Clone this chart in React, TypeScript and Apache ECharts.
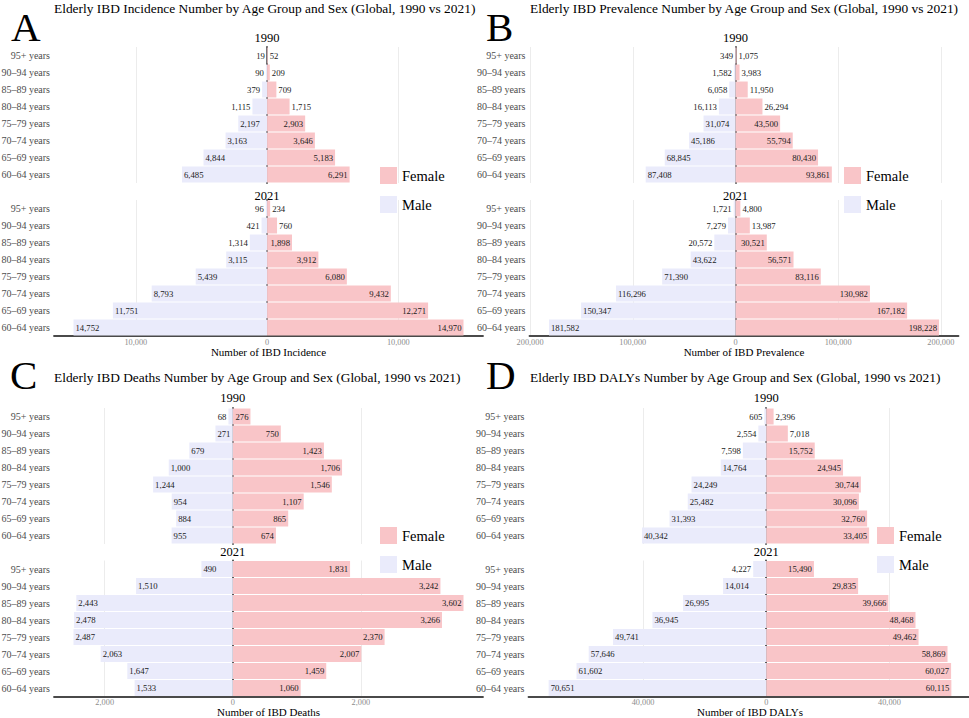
import React, { useEffect, useRef } from 'react';
import * as echarts from 'echarts';

// Age groups, bottom (first) to top (last)
const ageGroups = [
  '60–64 years',
  '65–69 years',
  '70–74 years',
  '75–79 years',
  '80–84 years',
  '85–89 years',
  '90–94 years',
  '95+ years',
];

// A: Incidence
const incidenceFemale1990 = [6291, 5183, 3646, 2903, 1715, 709, 209, 52];
const incidenceMale1990 = [6485, 4844, 3163, 2197, 1115, 379, 90, 19];
const incidenceFemale2021 = [14970, 12271, 9432, 6080, 3912, 1898, 760, 234];
const incidenceMale2021 = [14752, 11751, 8793, 5439, 3115, 1314, 421, 96];
const incidenceTicks = [-10000, 0, 10000];

// B: Prevalence
const prevalenceFemale1990 = [93861, 80430, 55794, 43500, 26294, 11950, 3983, 1075];
const prevalenceMale1990 = [87408, 68845, 45186, 31074, 16113, 6058, 1582, 349];
const prevalenceFemale2021 = [198228, 167182, 130982, 83116, 56571, 30521, 13987, 4800];
const prevalenceMale2021 = [181582, 150347, 116296, 71390, 43622, 20572, 7279, 1721];
const prevalenceTicks = [-200000, -100000, 0, 100000, 200000];

// C: Deaths
const deathsFemale1990 = [674, 865, 1107, 1546, 1706, 1423, 750, 276];
const deathsMale1990 = [955, 884, 954, 1244, 1000, 679, 271, 68];
const deathsFemale2021 = [1060, 1459, 2007, 2370, 3266, 3602, 3242, 1831];
const deathsMale2021 = [1533, 1647, 2063, 2487, 2478, 2443, 1510, 490];
const deathsTicks = [-2000, 0, 2000];

// D: DALYs
const dalysFemale1990 = [33405, 32760, 30096, 30744, 24945, 15752, 7018, 2396];
const dalysMale1990 = [40342, 31393, 25482, 24249, 14764, 7598, 2554, 605];
const dalysFemale2021 = [60115, 60027, 58869, 49462, 48468, 39666, 29835, 15490];
const dalysMale2021 = [70651, 61602, 57646, 49741, 36945, 26995, 14014, 4227];
const dalysTicks = [-40000, 0, 40000];

const years = ['1990', '2021'];
const sexes = ['Female', 'Male'];

const FONT = "'Liberation Serif', 'Times New Roman', serif";
const FEMALE_COLOR = '#F9C5C8';
const MALE_COLOR = '#EAEBFB';
const LABEL_FS = 8.7;

function fmt(v: number): string {
  return Math.abs(Math.round(v)).toLocaleString('en-US');
}

function textWidth(s: string, fs: number): number {
  let w = 0;
  for (const ch of s) w += ch === ',' ? 0.25 : 0.5;
  return w * fs;
}

const panels = [
  {
    letter: 'A',
    title: 'Elderly IBD Incidence Number by Age Group and Sex (Global, 1990 vs 2021)',
    axisName: 'Number of IBD Incidence',
    female: [incidenceFemale1990, incidenceFemale2021],
    male: [incidenceMale1990, incidenceMale2021],
    ticks: incidenceTicks,
    left: 54, width: 429, tops: [47, 200],
    letterX: 11, letterY: 26.5, titleX: 54, titleY: 8,
    subY: [37.5, 196], legendLeft: 380, legendTop: 167, nameGap: 10.5,
  },
  {
    letter: 'B',
    title: 'Elderly IBD Prevalence Number by Age Group and Sex (Global, 1990 vs 2021)',
    axisName: 'Number of IBD Prevalence',
    female: [prevalenceFemale1990, prevalenceFemale2021],
    male: [prevalenceMale1990, prevalenceMale2021],
    ticks: prevalenceTicks,
    left: 529.5, width: 429, tops: [47, 200],
    letterX: 486, letterY: 26.5, titleX: 530, titleY: 8,
    subY: [37.5, 196], legendLeft: 844, legendTop: 167, nameGap: 10.5,
  },
  {
    letter: 'C',
    title: 'Elderly IBD Deaths Number by Age Group and Sex (Global, 1990 vs 2021)',
    axisName: 'Number of IBD Deaths',
    female: [deathsFemale1990, deathsFemale2021],
    male: [deathsMale1990, deathsMale2021],
    ticks: deathsTicks,
    left: 54, width: 429, tops: [408, 560.5],
    letterX: 10, letterY: 375, titleX: 54, titleY: 377.5,
    subY: [397.7, 552], legendLeft: 380, legendTop: 527, nameGap: 10.3,
  },
  {
    letter: 'D',
    title: 'Elderly IBD DALYs Number by Age Group and Sex (Global, 1990 vs 2021)',
    axisName: 'Number of IBD DALYs',
    female: [dalysFemale1990, dalysFemale2021],
    male: [dalysMale1990, dalysMale2021],
    ticks: dalysTicks,
    left: 528.5, width: 443, tops: [408, 560.5],
    letterX: 486, letterY: 375, titleX: 530, titleY: 377.5,
    subY: [397.7, 552], legendLeft: 877, legendTop: 527, nameGap: 10.3,
  },
];

const GRID_H = 136;

export default function App() {
  const ref = useRef<HTMLDivElement>(null);

  useEffect(() => {
    if (!ref.current) return;
    const chart = echarts.init(ref.current, null, { renderer: 'svg' });

    const grids: any[] = [];
    const xAxes: any[] = [];
    const yAxes: any[] = [];
    const series: any[] = [];
    const legends: any[] = [];
    const graphics: any[] = [];

    panels.forEach((p) => {
      const all: number[] = [];
      p.female.forEach((arr) => arr.forEach((v) => all.push(v)));
      p.male.forEach((arr) => arr.forEach((v) => all.push(-v)));
      const dMin = Math.min(...all);
      const dMax = Math.max(...all);
      const pad = (dMax - dMin) * 0.05;
      const xMin = dMin - pad;
      const xMax = dMax + pad;
      const k = p.width / (xMax - xMin);
      const zeroPx = p.left + (0 - xMin) * k;
      const gridTicks = p.ticks.filter((t) => t !== 0);

      graphics.push({
        type: 'text', x: p.letterX, y: p.letterY,
        style: { text: p.letter, fontSize: 41, fontFamily: FONT, fill: '#000', textAlign: 'left', textVerticalAlign: 'middle', align: 'left', verticalAlign: 'middle' },
      });
      graphics.push({
        type: 'text', x: p.titleX, y: p.titleY,
        style: { text: p.title, fontSize: 13.4, fontFamily: FONT, fill: '#000', textAlign: 'left', textVerticalAlign: 'middle', align: 'left', verticalAlign: 'middle' },
      });

      legends.push({
        orient: 'vertical', left: p.legendLeft, top: p.legendTop, padding: 0,
        itemWidth: 17, itemHeight: 17, itemGap: 12, icon: 'rect',
        selectedMode: false, data: sexes,
        textStyle: { fontFamily: FONT, fontSize: 14.5, color: '#000' },
      });

      years.forEach((yr, yi) => {
        const gi = grids.length;
        const isBottom = yi === 1;
        grids.push({
          left: p.left, top: p.tops[yi], width: p.width, height: GRID_H,
          containLabel: false, outerBoundsMode: 'none',
        });
        graphics.push({
          type: 'text', x: zeroPx, y: p.subY[yi],
          style: { text: yr, fontSize: 12.5, fontFamily: FONT, fill: '#000', textAlign: 'center', textVerticalAlign: 'middle', align: 'center', verticalAlign: 'middle' },
        });
        xAxes.push({
          type: 'value', gridIndex: gi, min: xMin, max: xMax,
          axisLine: { show: isBottom, onZero: false, lineStyle: { color: '#4a4a4a', width: 1.8 } },
          axisTick: { show: false, customValues: gridTicks },
          axisLabel: {
            show: isBottom, customValues: p.ticks, margin: 2,
            fontFamily: FONT, fontSize: 8.3, color: '#8c8c8c',
            formatter: (v: number) => fmt(v),
          },
          splitLine: { show: true, lineStyle: { color: '#ececec', width: 1 } },
          name: isBottom ? p.axisName : '',
          nameLocation: 'middle', nameGap: p.nameGap, nameMoveOverlap: false,
          nameTextStyle: { fontFamily: FONT, fontSize: 11, color: '#000' },
        });
        yAxes.push({
          type: 'category', gridIndex: gi, data: ageGroups,
          axisLine: { show: true, lineStyle: { color: '#4a4a4a', width: 1.8 } },
          axisTick: { show: false },
          axisLabel: { fontFamily: FONT, fontSize: 10, color: '#4d4d4d', margin: 4 },
          splitLine: { show: false },
        });

        const mk = (vals: number[], isMale: boolean) =>
          vals.map((v) => {
            const txt = fmt(v);
            const inside = v * k >= textWidth(txt, LABEL_FS) + 4;
            const position = inside
              ? (isMale ? 'insideLeft' : 'insideRight')
              : (isMale ? 'left' : 'right');
            return { value: isMale ? -v : v, label: { position } };
          });

        const labelBase = {
          show: true, distance: 2, fontFamily: FONT, fontSize: LABEL_FS, color: '#1a1a1a',
          formatter: (prm: any) => fmt(prm.value),
        };

        series.push({
          type: 'bar', name: 'Female', xAxisIndex: gi, yAxisIndex: gi,
          data: mk(p.female[yi], false), barWidth: '94%', barGap: '-100%',
          itemStyle: { color: FEMALE_COLOR }, label: labelBase,
        });
        series.push({
          type: 'bar', name: 'Male', xAxisIndex: gi, yAxisIndex: gi,
          data: mk(p.male[yi], true), barWidth: '94%', barGap: '-100%',
          itemStyle: { color: MALE_COLOR }, label: labelBase,
        });
      });
    });

    chart.setOption({
      animation: false,
      backgroundColor: '#ffffff',
      textStyle: { fontFamily: FONT },
      grid: grids,
      xAxis: xAxes,
      yAxis: yAxes,
      legend: legends,
      series,
      graphic: graphics,
    });

    return () => chart.dispose();
  }, []);

  return (
    <div
      ref={ref}
      style={{ position: 'absolute', left: 0, top: 0, width: 969, height: 718, background: '#fff' }}
    />
  );
}
